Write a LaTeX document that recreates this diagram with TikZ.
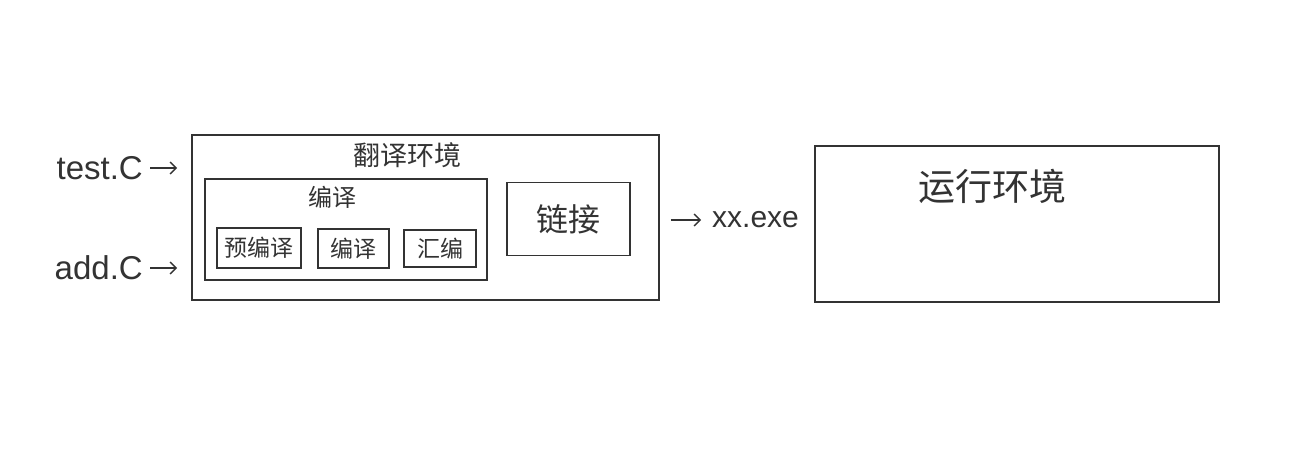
\documentclass[tikz,border=0pt]{standalone}
\usepackage{fontspec}
\setmainfont{Liberation Sans}
\newfontfamily\cjk{Noto Sans CJK SC}
\usetikzlibrary{arrows.meta}
\definecolor{ink}{HTML}{333333}
\tikzset{
  box/.style={draw=ink, line width=1.6pt, inner sep=0pt, rectangle},
  cjktext/.style={text=ink, inner sep=0pt, font=\cjk\fontsize{#1}{#1}\selectfont},
  latin/.style={text=ink, inner sep=0pt, font=\fontsize{#1}{#1}\selectfont},
  arr/.style={draw=ink, line width=1.4pt, -{Straight Barb[length=6pt,width=12pt]}}
}
\begin{document}
\begin{tikzpicture}[x=1pt,y=-1pt]
\useasboundingbox[fill=white] (0,0) rectangle (1298,463);
% translation environment
\node[box, minimum width=467pt, minimum height=165pt] (fanyi) at (425.5,217.5) {};
\node[cjktext=27] (fanyilbl) at (407,155) {翻译环境};
\node[box, minimum width=282pt, minimum height=101pt] (bianyi) at (346,229.5) {};
\node[cjktext=24] (bianyilbl) at (332,197) {编译};
\node[box, minimum width=84pt, minimum height=40pt, cjktext=23] (yubianyi) at (259,248) {预编译};
\node[box, minimum width=71pt, minimum height=39pt, cjktext=23] (bianyi2) at (353.5,248.5) {编译};
\node[box, minimum width=72pt, minimum height=37pt, cjktext=23] (huibian) at (440,248.5) {汇编};
\node[box, minimum width=123pt, minimum height=73pt, cjktext=32] (lianjie) at (568.5,219) {链接};
% inputs
\node[latin=33, anchor=east] (test) at (143,168) {test.C};
\node[latin=33, anchor=east] (add) at (143,268) {add.C};
\draw[arr, shorten <=7pt, shorten >=14pt] (test.east) -- (test.east -| fanyi.west);
\draw[arr, shorten <=7pt, shorten >=14pt] (add.east) -- (add.east -| fanyi.west);
% output
\node[latin=30, anchor=west] (exe) at (712,220) {xx.exe};
\draw[arr, shorten <=11pt, shorten >=11pt] (exe.west -| fanyi.east) -- (exe.west);
% runtime environment
\node[box, minimum width=404pt, minimum height=156pt] (yunxing) at (1017,224) {};
\node[cjktext=37] (yunxinglbl) at (992,186) {运行环境};
\end{tikzpicture}
\end{document}
